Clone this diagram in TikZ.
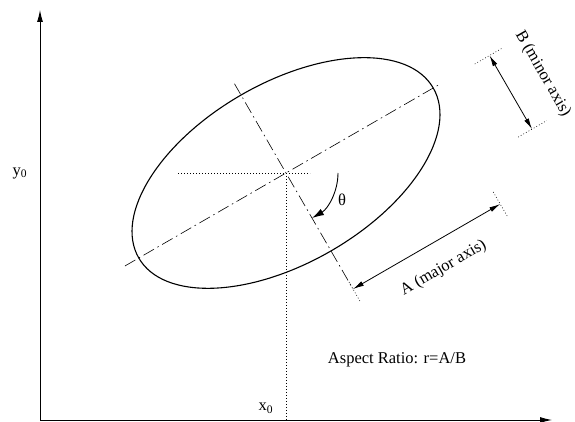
\documentclass[tikz,border=0pt]{standalone}
\usepackage{fontspec}
\setmainfont{Liberation Serif}
\usetikzlibrary{calc,arrows.meta}
\begin{document}
\begin{tikzpicture}[x=1pt,y=1pt,
  lbl/.style={font=\fontsize{16.5}{19}\selectfont, inner sep=0pt},
  axis/.style={line width=0.9pt,-{Latex[length=12pt,width=6pt]}},
  dim/.style={line width=0.8pt,{Latex[length=11pt,width=5pt]}-{Latex[length=11pt,width=5pt]}},
  dashdot/.style={line width=0.6pt,dash pattern=on 12pt off 4pt on 1.5pt off 4pt},
  dots/.style={line width=0.6pt,dash pattern=on 0.8pt off 2.2pt},
  curve/.style={line width=1.1pt}]
\useasboundingbox (0,0) rectangle (575,422);
% axes
\coordinate (O) at (40,2);
\coordinate (ytip) at (40,412);
\coordinate (xtip) at (552,2);
\draw[axis] (O) -- (ytip);
\draw[axis] (O) -- (xtip);
% ellipse
\coordinate (C) at (286,249);
\draw[curve, rotate around={30:(C)}] (C) ellipse[x radius=170, y radius=90];
% axes of the ellipse
\coordinate (maj1) at ($(C)+(210:186)$);
\coordinate (maj2) at ($(C)+(30:179)$);
\coordinate (min1) at ($(C)+(120:103)$);
\coordinate (P1) at ($(C)+(-60:134)$);
\coordinate (P2) at ($(P1)+(30:170)$);
\coordinate (Q1) at ($(C)+(30:235)$);
\coordinate (Q2) at ($(Q1)+(-60:85)$);
\draw[dashdot] (maj1) -- (maj2);
\draw[dashdot] (min1) -- (P1);
% dotted reference lines
\coordinate (hl) at (178,249);
\coordinate (hr) at (310,249);
\draw[dots] (hl) -- (hr);
\coordinate (vb) at (286,2);
\draw[dots] (C) -- (vb);
% theta arc
\coordinate (th0) at ($(C)+(0:52)$);
\draw[line width=0.9pt,-{Latex[length=12pt,width=7pt]}] (th0) arc[start angle=0,end angle=-60,radius=52];
% A dimension
\coordinate (P1a) at ($(P1)+(120:8)$);
\coordinate (P1b) at ($(P1)+(-60:15)$);
\coordinate (P2a) at ($(P2)+(120:14)$);
\coordinate (P2b) at ($(P2)+(-60:14)$);
\draw[dots] (P1a) -- (P1b);
\draw[dots] (P2a) -- (P2b);
\draw[dim] (P1) -- (P2);
% B dimension
\coordinate (Q1a) at ($(Q1)+(210:17)$);
\coordinate (Q1b) at ($(Q1)+(30:14)$);
\coordinate (Q2a) at ($(Q2)+(210:16)$);
\coordinate (Q2b) at ($(Q2)+(30:17)$);
\draw[dots] (Q1a) -- (Q1b);
\draw[dots] (Q2a) -- (Q2b);
\draw[dim] (Q1) -- (Q2);
% labels
\coordinate (Pm) at ($(P1)!0.5!(P2)$);
\coordinate (Qm) at ($(Q1)!0.5!(Q2)$);
\node[lbl, rotate=30] (Alab) at ($(Pm)+(-60:27)+(30:4)$) {A (major axis)};
\node[lbl, rotate=-60] (Blab) at ($(Qm)+(30:37)$) {B (minor axis)};
\node[lbl] (y0) at (20,249) {y\textsubscript{0}};
\node[lbl] (x0) at (266,14) {x\textsubscript{0}};
\node[lbl] (th) at (342,222) {θ};
\node[lbl] (asp) at (397,62) {Aspect Ratio: r=A/B};
\end{tikzpicture}
\end{document}
